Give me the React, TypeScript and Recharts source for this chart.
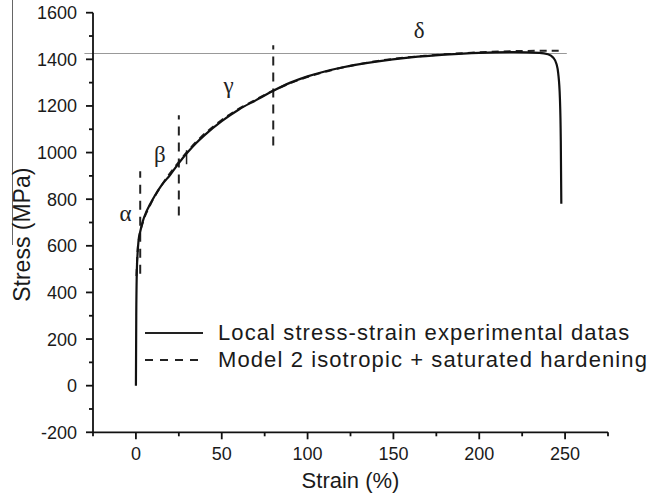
import React from "react";
import {
  LineChart,
  Line,
  XAxis,
  YAxis,
  ReferenceLine,
  ReferenceDot,
  Legend,
  Label,
} from "recharts";

// experimental curve (strain %, stress MPa)
const expStrain = [0, 0.2, 0.5, 1, 1.5, 2.5, 4, 6, 8, 11, 15, 20, 25, 30, 35, 40, 50, 60, 70, 80, 90, 100, 110, 120, 140, 160, 180, 200, 220, 235, 240, 243, 245, 246, 247, 247.5, 247.8];
const expStress = [0, 300, 480, 570, 620, 660, 705, 745, 775, 815, 860, 905, 955, 1000, 1040, 1075, 1135, 1185, 1225, 1265, 1300, 1327, 1348, 1365, 1390, 1408, 1420, 1428, 1431, 1428, 1422, 1408, 1380, 1340, 1230, 1050, 780];

// model 2 (isotropic + saturated hardening)
const modelStrain = [0.3, 1, 2, 4, 8, 15, 25, 35, 50, 70, 90, 110, 140, 170, 200, 220, 248];
const modelStress = [470, 580, 640, 700, 770, 860, 960, 1045, 1140, 1228, 1298, 1346, 1392, 1416, 1430, 1435, 1437];

const xTicks = [-25, 0, 25, 50, 75, 100, 125, 150, 175, 200, 225, 250, 275];
const xMajor = [0, 50, 100, 150, 200, 250];
const yTicks = [-200, -100, 0, 100, 200, 300, 400, 500, 600, 700, 800, 900, 1000, 1100, 1200, 1300, 1400, 1500, 1600];
const yMajor = [-200, 0, 200, 400, 600, 800, 1000, 1200, 1400, 1600];

// phase boundaries (dashed vertical segments)
const boundaryX = [2.5, 25, 80];
const boundaryFrom = [480, 730, 1030];
const boundaryTo = [920, 1160, 1460];

const saturation = 1425;
const phaseLabels = ["α", "β", "γ", "δ"];
const phaseX = [-6, 14, 54, 165];
const phaseY = [740, 995, 1290, 1526];

const legendNames = ["Local stress-strain experimental datas", "Model 2 isotropic + saturated hardening"];

const expData = expStrain.map((s, i) => ({ strain: s, stress: expStress[i] }));
const modelData = modelStrain.map((s, i) => ({ strain: s, stress: modelStress[i] }));

const SANS = "'Liberation Sans', Arial, sans-serif";
const SERIF = "'Liberation Serif', 'Times New Roman', serif";

const XTick = ({ x, y, payload }: any) => {
  const major = xMajor.includes(payload.value);
  return (
    <g>
      <line x1={x} y1={y} x2={x} y2={y + (major ? 7 : 4)} stroke="#111" strokeWidth={1.8} />
      {major && (
        <text x={x} y={y + 28} textAnchor="middle" fontSize={18} fontFamily={SANS} fill="#1a1a1a">
          {payload.value}
        </text>
      )}
    </g>
  );
};

const YTick = ({ x, y, payload }: any) => {
  const major = yMajor.includes(payload.value);
  return (
    <g>
      <line x1={x} y1={y} x2={x - (major ? 7 : 4)} y2={y} stroke="#111" strokeWidth={1.8} />
      {major && (
        <text x={x - 16} y={y + 6.5} textAnchor="end" fontSize={18} fontFamily={SANS} fill="#1a1a1a">
          {payload.value}
        </text>
      )}
    </g>
  );
};

const YTitle = ({ viewBox }: any) => {
  const cx = viewBox.x - 11;
  const cy = viewBox.y + 222;
  return (
    <text
      x={cx}
      y={cy}
      transform={`rotate(-90, ${cx}, ${cy})`}
      textAnchor="middle"
      dominantBaseline="central"
      fontSize={23}
      fontFamily={SANS}
      fill="#1a1a1a"
    >
      Stress (MPa)
    </text>
  );
};

const renderLegend = () => (
  <div style={{ fontFamily: SANS, fontSize: 22, letterSpacing: 1.1, color: "#1a1a1a" }}>
    {legendNames.map((name, i) => (
      <div key={name} style={{ display: "flex", alignItems: "center", height: 27, whiteSpace: "nowrap" }}>
        <svg width={60} height={8} style={{ display: "block" }}>
          <line
            x1={0}
            y1={4}
            x2={i === 0 ? 58 : 54}
            y2={4}
            stroke="#222"
            strokeWidth={2}
            strokeDasharray={i === 0 ? undefined : "8 7"}
          />
        </svg>
        <span style={{ marginLeft: 13 }}>{name}</span>
      </div>
    ))}
  </div>
);

export default function App() {
  return (
    <div style={{ position: "absolute", left: 0, top: 0, width: 654, height: 500, background: "#fff" }}>
      <div style={{ position: "absolute", left: 12, top: 0, width: 1, height: 245, background: "#666" }} />
      <LineChart width={654} height={500} margin={{ top: 12.7, right: 46, bottom: 7.7, left: 33 }}>
        <XAxis
          type="number"
          dataKey="strain"
          domain={[-25, 275]}
          ticks={xTicks}
          interval={0}
          height={60}
          tickSize={0}
          tickMargin={0}
          tickLine={false}
          tick={<XTick />}
          axisLine={{ stroke: "#111", strokeWidth: 1.8 }}
        >
          <Label
            value="Strain (%)"
            position="insideBottom"
            offset={4}
            style={{ fontSize: 22, fontFamily: SANS, fill: "#1a1a1a" }}
          />
        </XAxis>
        <YAxis
          type="number"
          dataKey="stress"
          domain={[-200, 1600]}
          ticks={yTicks}
          interval={0}
          width={60}
          tickSize={0}
          tickMargin={0}
          tickLine={false}
          tick={<YTick />}
          axisLine={{ stroke: "#111", strokeWidth: 1.8 }}
        >
          <Label content={<YTitle />} />
        </YAxis>
        <ReferenceLine
          segment={[{ x: -30, y: saturation }, { x: 251, y: saturation }]}
          stroke="#999"
          strokeWidth={1.2}
          ifOverflow="visible"
        />
        {boundaryX.map((bx, i) => (
          <ReferenceLine
            key={bx}
            segment={[{ x: bx, y: boundaryFrom[i] }, { x: bx, y: boundaryTo[i] }]}
            stroke="#222"
            strokeWidth={2}
            strokeDasharray="9 7"
          />
        ))}
        <ReferenceLine
          segment={[{ x: 29.5, y: 950 }, { x: 29.5, y: 1010 }]}
          stroke="#222"
          strokeWidth={1.5}
        />
        <Line
          data={modelData}
          dataKey="stress"
          type="monotone"
          stroke="#222"
          strokeWidth={2}
          strokeDasharray="7 5"
          dot={false}
          isAnimationActive={false}
          name={legendNames[1]}
        />
        <Line
          data={expData}
          dataKey="stress"
          type="monotone"
          stroke="#111"
          strokeWidth={2.2}
          dot={false}
          isAnimationActive={false}
          name={legendNames[0]}
        />
        {phaseLabels.map((t, i) => (
          <ReferenceDot
            key={t}
            x={phaseX[i]}
            y={phaseY[i]}
            r={0}
            stroke="none"
            fill="none"
            label={{ value: t, position: "center", fontSize: 23, fontFamily: SERIF, fill: "#222" }}
          />
        ))}
        <Legend
          layout="vertical"
          align="center"
          verticalAlign="middle"
          content={renderLegend}
          wrapperStyle={{ left: 145, top: 319, width: 520 }}
        />
      </LineChart>
    </div>
  );
}
